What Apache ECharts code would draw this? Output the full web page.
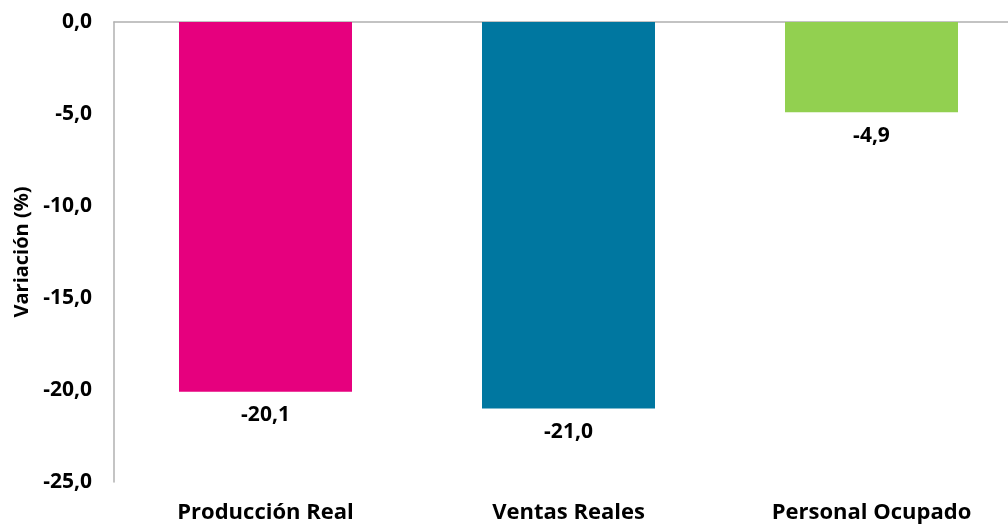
<!DOCTYPE html>
<html><head><meta charset="utf-8">
<script src="https://cdn.jsdelivr.net/npm/echarts@6/dist/echarts.min.js"></script>
<style>html,body{margin:0;padding:0;background:#fff}#c{width:1008px;height:525px}</style>
</head><body><div id="c"></div>
<script>
const categories = ['Producción Real', 'Ventas Reales', 'Personal Ocupado'];
const values = [-20.1, -21.0, -4.9];
const colors = ['#E6007E', '#0077A0', '#92D050'];
const yTicks = { min: -25, max: 0, interval: 5 };
const fmt = v => v.toFixed(1).replace('.', ',');
const FONT = 'Open Sans';
const chart = echarts.init(document.getElementById('c'));
chart.setOption({
  animation: false,
  grid: { left: 114, width: 909, top: 22, bottom: 43, outerBoundsMode: 'none', containLabel: false },
  xAxis: [
    { type: 'category', data: categories, position: 'top',
      axisLine: { show: true, onZero: false, lineStyle: { color: '#B0B0B0', width: 1.5 } },
      axisTick: { show: false }, axisLabel: { show: false } },
    { type: 'category', data: categories, position: 'bottom',
      axisLine: { show: false }, axisTick: { show: false },
      axisLabel: { margin: 20, color: '#000', fontFamily: FONT, fontWeight: 'bold', fontSize: 22 } }
  ],
  yAxis: {
    type: 'value', min: yTicks.min, max: yTicks.max, interval: yTicks.interval,
    name: 'Variación (%)', nameLocation: 'middle', nameGap: 82, nameRotate: 90,
    nameTextStyle: { color: '#000', fontFamily: FONT, fontWeight: 'bold', fontSize: 20 },
    axisLine: { show: true, lineStyle: { color: '#B0B0B0', width: 1.5 } },
    axisTick: { show: false }, splitLine: { show: false },
    axisLabel: { margin: 22, color: '#000', fontFamily: FONT, fontWeight: 'bold', fontSize: 21, formatter: fmt }
  },
  series: [{
    type: 'bar', xAxisIndex: 0, barWidth: 173,
    data: values.map((v, i) => ({ value: v, itemStyle: { color: colors[i] } })),
    label: { show: true, position: 'bottom', distance: 13, color: '#000', fontFamily: FONT, fontWeight: 'bold', fontSize: 21,
      formatter: p => fmt(p.value) }
  }]
});
</script></body></html>
